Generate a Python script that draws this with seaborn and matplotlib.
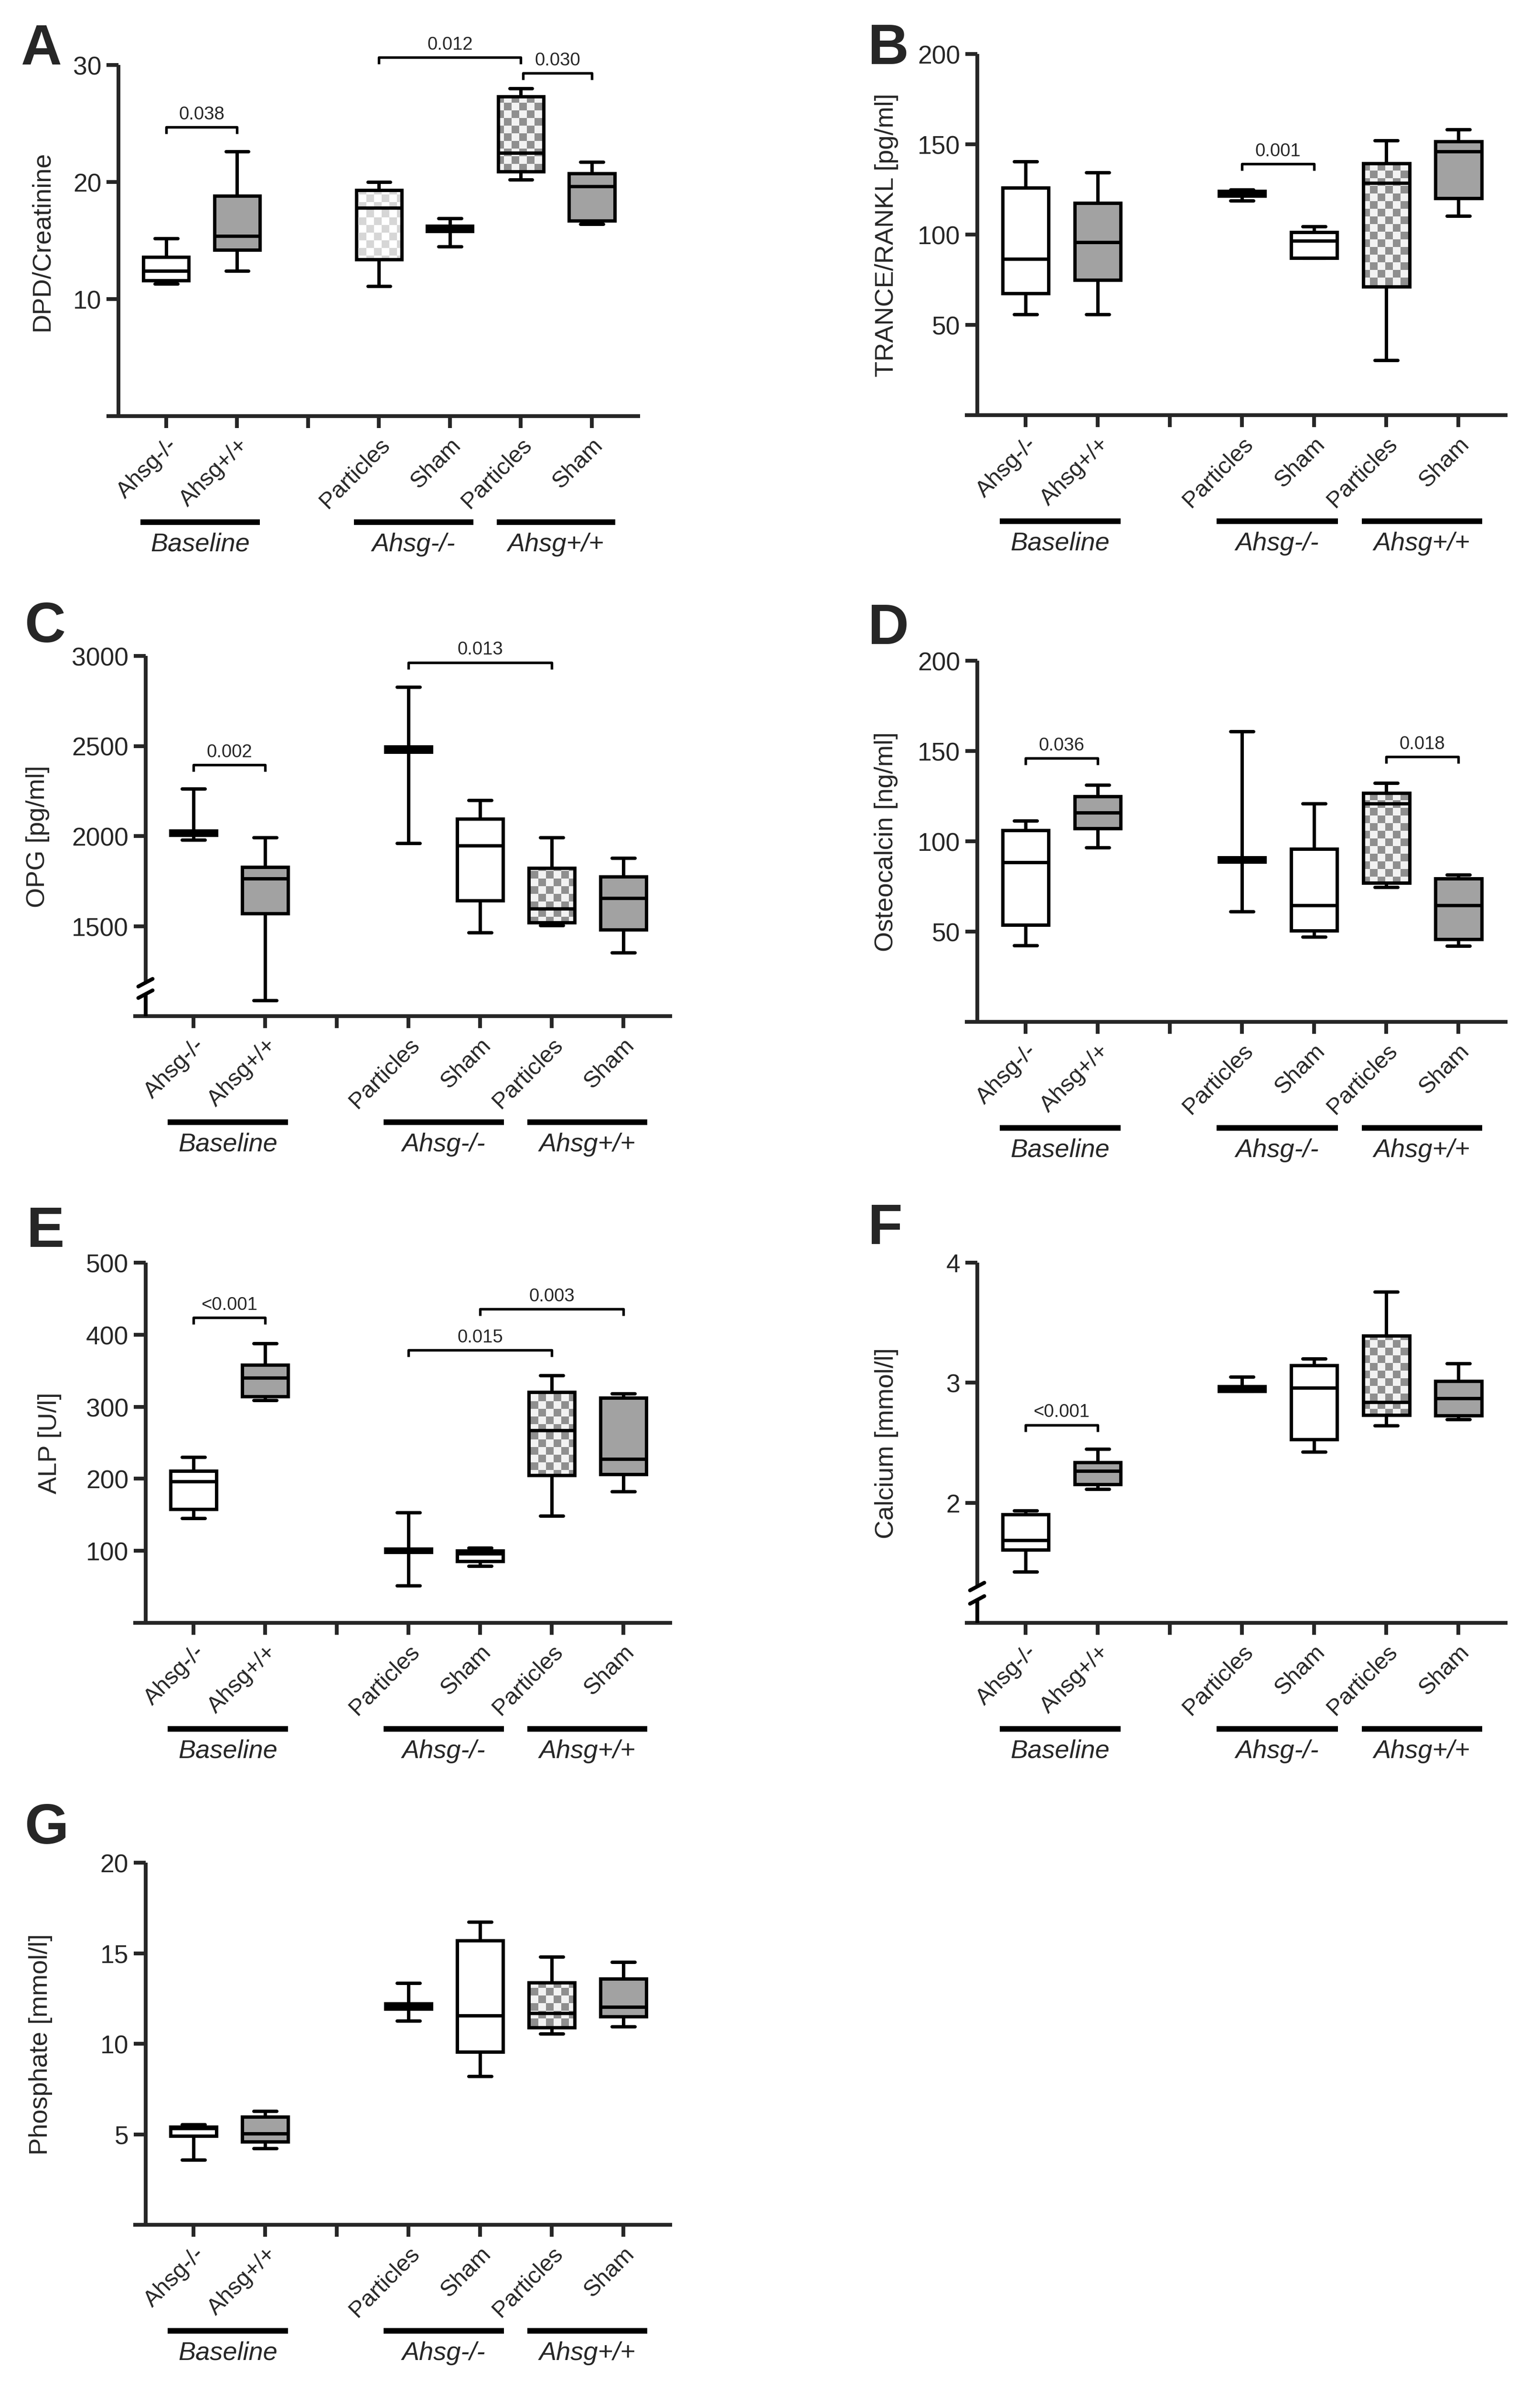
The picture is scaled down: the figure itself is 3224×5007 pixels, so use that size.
import numpy as np
import pandas as pd
import matplotlib
matplotlib.use("Agg")
import matplotlib.pyplot as plt
import matplotlib.transforms as mtransforms
import seaborn as sns

sns.set_style("ticks")
plt.rcParams["font.family"] = ["Liberation Sans", "DejaVu Sans"]
plt.rcParams["axes.linewidth"] = 1.9

W, H, DPI = 3224, 5008, 300

# ---------------- data ----------------
groups = ["Baseline Ahsg-/-", "Baseline Ahsg+/+", "gap",
          "Ahsg-/- Particles", "Ahsg-/- Sham", "Ahsg+/+ Particles", "Ahsg+/+ Sham"]
tick_labels = ["Ahsg-/-", "Ahsg+/+", "", "Particles", "Sham", "Particles", "Sham"]
box_groups = [g for g in groups if g != "gap"]
fill_kind = ["white", "gray", "lightcheck", "white", "darkcheck", "gray"]
group_names = ["Baseline", "Ahsg-/-", "Ahsg+/+"]

# five-number summaries [min, q1, median, q3, max] for each of the 6 boxes
dpd = [[11.3, 11.6, 12.4, 13.6, 15.2], [12.4, 14.2, 15.4, 18.8, 22.6],
       [11.1, 13.4, 17.8, 19.3, 20.0], [14.5, 15.8, 16.0, 16.25, 16.9],
       [20.2, 20.9, 22.5, 27.3, 28.0], [16.4, 16.7, 19.65, 20.75, 21.7]]
rankl = [[55.9, 67.5, 86.6, 126.0, 140.4], [55.9, 74.8, 95.7, 117.5, 134.3],
         [118.7, 121.3, 122.6, 124.0, 125.0], [87.0, 87.0, 96.5, 101.2, 104.5],
         [30.3, 71.1, 128.5, 139.4, 152.0], [110.4, 120.1, 146.1, 151.6, 158.1]]
opg = [[1980, 2005, 2015, 2028, 2262], [1087, 1571, 1764, 1827, 1993],
       [1961, 2468, 2483, 2497, 2828], [1465, 1643, 1948, 2096, 2198],
       [1505, 1520, 1596, 1821, 1993], [1352, 1479, 1655, 1774, 1878]]
ocn = [[42.4, 53.6, 88.4, 106.0, 111.5], [96.5, 107.2, 115.9, 125.0, 131.3],
       [61.0, 88.7, 90.0, 91.0, 160.9], [47.0, 50.4, 64.6, 95.8, 121.0],
       [74.7, 77.0, 121.0, 126.7, 132.4], [42.0, 45.8, 64.6, 79.4, 81.5]]
alp = [[145.1, 157.8, 196.0, 210.8, 230.4], [308.8, 314.0, 340.0, 358.0, 387.7],
       [51.4, 98.0, 101.0, 103.0, 153.0], [79.0, 85.3, 96.0, 100.0, 103.8],
       [148.8, 205.0, 267.0, 320.4, 343.8], [182.2, 206.0, 227.2, 312.5, 318.3]]
calcium = [[1.425, 1.61, 1.69, 1.905, 1.936], [2.115, 2.153, 2.264, 2.337, 2.45],
           [2.93, 2.93, 2.95, 2.97, 3.05], [2.423, 2.528, 2.957, 3.145, 3.2],
           [2.642, 2.731, 2.84, 3.393, 3.758], [2.696, 2.728, 2.871, 3.014, 3.16]]
phosphate = [[3.6, 4.92, 5.33, 5.42, 5.55], [4.22, 4.59, 5.04, 5.96, 6.28],
             [11.27, 11.93, 12.09, 12.22, 13.36], [8.2, 9.56, 11.56, 15.71, 16.73],
             [10.56, 10.89, 11.69, 13.38, 14.8], [10.96, 11.51, 12.02, 13.58, 14.51]]

ylabels = ["DPD/Creatinine", "TRANCE/RANKL [pg/ml]", "OPG [pg/ml]",
           "Osteocalcin [ng/ml]", "ALP [U/l]", "Calcium [mmol/l]", "Phosphate [mmol/l]"]
yticks = [[10, 20, 30], [50, 100, 150, 200], [1500, 2000, 2500, 3000],
          [50, 100, 150, 200], [100, 200, 300, 400, 500], [2, 3, 4], [5, 10, 15, 20]]
ylims = [(0, 30), (0, 200), (1000, 3000), (0, 200), (0, 500), (1, 4), (0, 20)]
brackets = [
    [(0, 1, 24.7, "0.038"), (3, 5, 30.65, "0.012"), (5.03, 6, 29.3, "0.030")],
    [(3, 4, 139.2, "0.001")],
    [(0, 1, 2396, "0.002"), (3, 5, 2964, "0.013")],
    [(0, 1, 146.1, "0.036"), (5, 6, 146.8, "0.018")],
    [(0, 1, 423.7, "<0.001"), (4, 6, 435.4, "0.003"), (3, 5, 378.7, "0.015")],
    [(0, 1, 2.649, "<0.001")],
    [],
]
panel_data = [dpd, rankl, opg, ocn, alp, calcium, phosphate]
letters = ["A", "B", "C", "D", "E", "F", "G"]

# ---------------- layout (pixels) ----------------
# left, top, width, bottom
geom = [(223, 137, 1117, 872), (2020, 114, 1136, 870),
        (279, 1374, 1128, 2128), (2020, 1384, 1136, 2140),
        (279, 2644, 1128, 3398), (2020, 2644, 1136, 3398),
        (279, 3900, 1128, 4658)]
letter_pos = [(43, 135), (1817, 134), (51, 1344), (1817, 1348),
              (56, 2610), (1817, 2604), (51, 3859)]
ylabel_x = [88, 1856, 79, 1855, 104, 1856, 85]
breaks = {2: (2058, 2082), 5: (3322, 3350)}   # pixel y of break marks
XL = (-0.84, 6.68)
YSPINE = -0.67

palette = {"white": "white", "gray": "#a2a2a2", "lightcheck": "white", "darkcheck": "white"}
check_cols = {"lightcheck": ("#d6d6d6", "#ffffff"), "darkcheck": ("#8f8f8f", "#f2f2f2")}

fig = plt.figure(figsize=(W / DPI, H / DPI), dpi=DPI)


def px_to_data(ax, xpx, ypx):
    return ax.transData.inverted().transform((xpx, H - ypx))


for k in range(7):
    left, top, width, bottom = geom[k]
    ax = fig.add_axes([left / W, 1 - bottom / H, width / W, (bottom - top) / H])
    rows = []
    for g, summ in zip(box_groups, panel_data[k]):
        for v in summ:
            rows.append({"group": g, "value": v})
    df = pd.DataFrame(rows)
    pal = {g: palette[f] for g, f in zip(box_groups, fill_kind)}
    sns.boxplot(data=df, x="group", y="value", order=groups, hue="group",
                hue_order=box_groups, palette=pal, legend=False,
                whis=(0, 100), width=0.64, linewidth=1.7, linecolor="black",
                ax=ax)

    ax.set_xlim(*XL)
    ax.set_ylim(*ylims[k])

    # checkerboard fills
    sq = 16
    nx, ny = int(np.ceil(width / sq)), int(np.ceil((bottom - top) / sq))
    ii, jj = np.meshgrid(np.arange(nx), np.arange(ny))
    mask = ((ii + jj) % 2 == 0)
    for patch in list(ax.patches):
        verts = patch.get_path().vertices
        xc = (verts[:, 0].min() + verts[:, 0].max()) / 2
        idx = int(round(xc))
        if idx in (3, 5, 6, 4):
            kind = fill_kind[idx - 1]
        elif idx in (0, 1):
            kind = fill_kind[idx]
        else:
            continue
        if kind in check_cols:
            c1, c2 = check_cols[kind]
            rgb = np.zeros((ny, nx, 3))
            rgb[mask] = matplotlib.colors.to_rgb(c1)
            rgb[~mask] = matplotlib.colors.to_rgb(c2)
            im = ax.imshow(rgb, extent=(0, nx * sq / width, 0, ny * sq / (bottom - top)),
                           transform=ax.transAxes, origin="lower", aspect="auto",
                           interpolation="nearest", zorder=patch.get_zorder() - 0.01)
            im.set_clip_path(patch)
            patch.set_facecolor("none")
    ax.set_xlim(*XL)
    ax.set_ylim(*ylims[k])

    # axes styling
    sns.despine(ax=ax)
    ax.spines["left"].set_position(("data", YSPINE))
    for s in ("left", "bottom"):
        ax.spines[s].set_linewidth(1.9)
        ax.spines[s].set_capstyle("butt")
    ax.set_yticks(yticks[k])
    ax.set_yticklabels([str(t) for t in yticks[k]])
    ax.tick_params(axis="y", direction="out", length=6, width=1.9, labelsize=12.8, pad=2.5)
    ax.tick_params(axis="x", direction="out", length=6, width=1.9, labelsize=11.7, pad=3)
    ax.set_xticks(range(7))
    ax.set_xticklabels(tick_labels, rotation=45, ha="right", rotation_mode="anchor")
    ax.set_xlabel("")
    ax.set_ylabel(ylabels[k], fontsize=13)
    ax.yaxis.label.set_va("center")
    ax.yaxis.set_label_coords((ylabel_x[k] - left) / width, 0.5)

    ppu = (bottom - top) / (ylims[k][1] - ylims[k][0])  # pixels per y unit
    spx = width / (XL[1] - XL[0])                        # pixels per x unit

    # axis break
    if k in breaks:
        ytop_px, ybot_px = breaks[k]
        y_hi = ylims[k][0] + (bottom - ytop_px) / ppu
        y_lo = ylims[k][0] + (bottom - ybot_px) / ppu
        ax.spines["left"].set_bounds(y_hi, ylims[k][1])
        ax.plot([YSPINE, YSPINE], [ylims[k][0], y_lo], color="black", lw=1.9,
                solid_capstyle="butt", clip_on=False, zorder=5)
        for yb in (y_hi, y_lo):
            ax.plot([YSPINE - 15 / spx, YSPINE + 15 / spx], [yb - 8 / ppu, yb + 8 / ppu],
                    color="black", lw=1.9, clip_on=False, zorder=5)

    # significance brackets
    for x0, x1, yb, lab in brackets[k]:
        d = 14 / ppu
        ax.plot([x0, x0, x1, x1], [yb - d, yb, yb, yb - d], color="black", lw=1.3,
                clip_on=False, solid_capstyle="butt")
        ax.annotate(lab, xy=((x0 + x1) / 2, yb), xytext=(0, 2.2),
                    textcoords="offset points", ha="center", va="bottom", fontsize=9.2,
                    annotation_clip=False)

    # group bars + labels beneath the x axis
    tbar = ax.get_xaxis_transform() + mtransforms.ScaledTranslation(0, -222 / DPI, fig.dpi_scale_trans)
    ttxt = ax.get_xaxis_transform() + mtransforms.ScaledTranslation(0, -268 / DPI, fig.dpi_scale_trans)
    spans = [(-0.36, 1.32), (2.65, 4.33), (4.66, 6.33)]
    for (a, b), name in zip(spans, group_names):
        ax.plot([a, b], [0, 0], transform=tbar, color="black", lw=2.8,
                solid_capstyle="butt", clip_on=False)
        ax.text((a + b) / 2, 0, name, transform=ttxt, ha="center", va="center",
                fontsize=13, style="italic")

    fig.text(letter_pos[k][0] / W, 1 - letter_pos[k][1] / H, letters[k],
             fontsize=28.5, fontweight="bold", ha="left", va="baseline")

fig.savefig("out.png", dpi=DPI)
